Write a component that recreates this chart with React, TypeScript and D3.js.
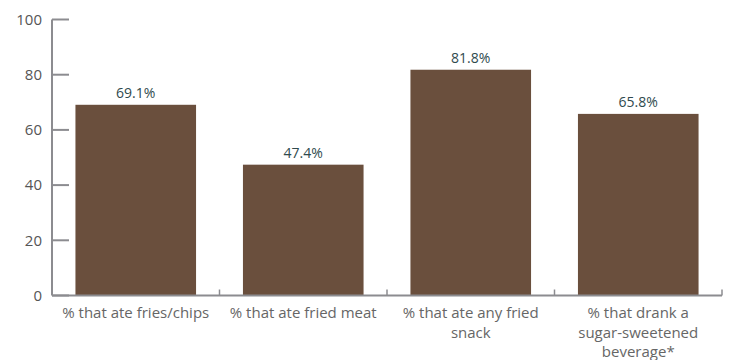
import React from "react";
import * as d3 from "d3";

const categories: string[][] = [
  ["% that ate fries/chips"],
  ["% that ate fried meat"],
  ["% that ate any fried", "snack"],
  ["% that drank a", "sugar-sweetened", "beverage*"],
];
const values: number[] = [69.1, 47.4, 81.8, 65.8];
const yTicks: number[] = [0, 20, 40, 60, 80, 100];

const W = 732;
const H = 360;
const left = 52;
const right = 722;
const top = 19.5;
const bottom = 295.5;

export default function App() {
  const x = d3
    .scaleBand<number>()
    .domain(values.map((_, i) => i))
    .range([left, right])
    .paddingInner(0.28)
    .paddingOuter(0.14);
  const y = d3.scaleLinear().domain([0, 100]).range([bottom, top]);
  const step = (right - left) / values.length;
  const font = "'Open Sans', Lato, sans-serif";
  const axisColor = "#8c8c90";

  return (
    <svg
      width={W}
      height={H}
      style={{ position: "absolute", left: 0, top: 0, background: "#fff" }}
    >
      {values.map((v, i) => (
        <rect
          key={i}
          x={x(i)!}
          y={y(v)}
          width={x.bandwidth()}
          height={bottom - y(v)}
          fill="#6a4f3d"
        />
      ))}
      {/* y axis */}
      <line x1={left} x2={left} y1={top} y2={bottom} stroke={axisColor} strokeWidth={2} />
      {yTicks.map((t) => (
        <g key={t}>
          <line x1={left} x2={left + 17} y1={y(t)} y2={y(t)} stroke={axisColor} strokeWidth={2} />
          <text
            x={42}
            y={y(t)}
            dy="0.35em"
            textAnchor="end"
            fontFamily={font}
            fontSize={15}
            fill="#555"
          >
            {t}
          </text>
        </g>
      ))}
      {/* x axis */}
      <line x1={left} x2={right} y1={bottom} y2={bottom} stroke={axisColor} strokeWidth={2} />
      {d3.range(1, values.length + 1).map((k) => (
        <line
          key={k}
          x1={left + k * step}
          x2={left + k * step}
          y1={bottom}
          y2={bottom - 6}
          stroke={axisColor}
          strokeWidth={1.5}
        />
      ))}
      {categories.map((lines, i) => (
        <text
          key={i}
          x={x(i)! + x.bandwidth() / 2}
          y={318}
          textAnchor="middle"
          fontFamily={font}
          fontSize={15}
          fill="#666"
        >
          {lines.map((l, j) => (
            <tspan key={j} x={x(i)! + x.bandwidth() / 2} dy={j === 0 ? 0 : 19.5}>
              {l}
            </tspan>
          ))}
        </text>
      ))}
      {values.map((v, i) => (
        <text
          key={i}
          x={x(i)! + x.bandwidth() / 2}
          y={y(v) - 7}
          textAnchor="middle"
          fontFamily={font}
          fontSize={14}
          fill="#2f4a4e"
        >
          {v.toFixed(1)}%
        </text>
      ))}
    </svg>
  );
}
